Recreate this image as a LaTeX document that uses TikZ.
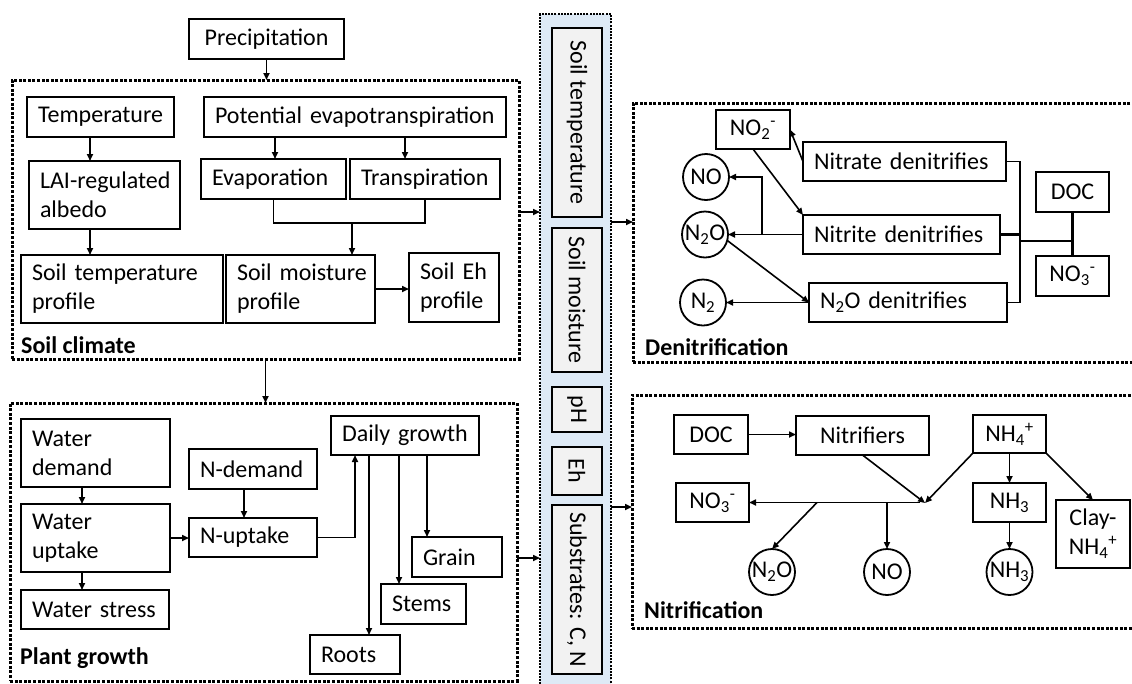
\documentclass[tikz,border=0pt]{standalone}
\usepackage{fontspec}
\setmainfont{Carlito}
\usetikzlibrary{arrows.meta}
\definecolor{colblue}{RGB}{222,234,246}
\definecolor{boxgray}{RGB}{242,242,242}
\tikzset{
  box/.style={draw, line width=2.6pt, inner xsep=11pt, inner ysep=0pt, outer sep=0pt,
    font=\fontsize{24}{29}\selectfont, align=left},
  circ/.style={draw, circle, line width=1.8pt, minimum size=46pt, inner sep=0pt, outer sep=0pt,
    font=\fontsize{24}{29}\selectfont},
  group/.style={draw, line width=3pt, dash pattern=on 3pt off 1.6pt, inner sep=0pt, outer sep=0pt},
  colgroup/.style={draw, fill=colblue, line width=2pt, dash pattern=on 2pt off 1.2pt, inner sep=0pt, outer sep=0pt},
  conn/.style={line width=1.6pt, -{Triangle[length=7pt,width=6pt]}},
  plain/.style={line width=1.6pt},
  lbl/.style={font=\bfseries\fontsize{24}{29}\selectfont, anchor=west, inner sep=0pt},
  cbox/.style={draw, line width=2.6pt, fill=boxgray, inner sep=0pt, outer sep=0pt,
    font=\fontsize{24}{29}\selectfont, anchor=north west},
}
\newcommand{\bx}[7][]{%
  \pgfmathsetmacro{\bxw}{#5-#3}\pgfmathsetmacro{\bxh}{#6-#4}\pgfmathsetmacro{\bxt}{\bxw-22}%
  \node[box, anchor=north west, minimum width=\bxw pt, minimum height=\bxh pt, text width=\bxt pt, #1] (#2) at (#3,#4) {#7};}
\begin{document}
\begin{tikzpicture}[x=1pt,y=-1pt]
\useasboundingbox (0,0) rectangle (1132,683);
\clip (0,0) rectangle (1132,683);

% group frames
\node[group, anchor=north west, minimum width=507pt, minimum height=279pt] (sc) at (12,80) {};
\node[group, anchor=north west, minimum width=507pt, minimum height=278pt] (pg) at (10,403) {};
\node[colgroup, anchor=north west, minimum width=71pt, minimum height=700pt] (col) at (540,14) {};
\node[group, anchor=north west, minimum width=540pt, minimum height=259pt] (dn) at (633,103) {};
\node[group, anchor=north west, minimum width=540pt, minimum height=233pt] (ni) at (632,395) {};

% labels
\node[lbl] (scl) at (21,345) {Soil climate};
\node[lbl] (pgl) at (20,658) {Plant growth};
\node[lbl] (dnl) at (645,347) {Denitrification};
\node[lbl] (nil) at (644,610) {Nitrification};

% soil climate
\bx[align=center]{precip}{189}{19}{344}{59}{Precipitation}
\bx{temp}{27}{97}{174}{137}{Temperature}
\bx{pet}{204}{97}{506}{137}{\mbox{Potential evapotranspiration}}
\bx{lai}{29}{161}{180}{229}{\mbox{LAI-regulated}\\albedo}
\bx{evap}{201}{159}{346}{199}{Evaporation}
\bx{transp}{350}{159}{500}{199}{Transpiration}
\bx{stp}{21}{255}{223}{323}{\mbox{Soil temperature}\\profile}
\bx{smp}{226}{255}{375}{323}{\mbox{Soil moisture}\\profile}
\bx{sehp}{409}{253}{499}{322}{\mbox{Soil Eh}\\profile}

\draw[conn] (precip.south) -- (precip.south |- sc.north);
\coordinate (t0) at ([xshift=-10.5pt]temp.south);
\draw[conn] (t0) -- (t0 |- lai.north);
\coordinate (p0) at ([xshift=-80pt]pet.south);
\draw[conn] (p0) -- (p0 |- evap.north);
\coordinate (p1) at ([xshift=50pt]pet.south);
\draw[conn] (p1) -- (p1 |- transp.north);
\draw[plain] (evap.south) -- ++(0,24) -| (transp.south);
\coordinate (m1) at (352,223);
\draw[conn] (m1) -- (m1 |- smp.north);
\coordinate (l0) at ([xshift=-14.5pt]lai.south);
\draw[conn] (l0) -- (l0 |- stp.north);
\draw[conn] (smp.east) -- (smp.east -| sehp.west);

\draw[conn] (sc.south) -- (sc.south |- pg.north);
\coordinate (a1) at ([yshift=7.5pt]sc.east);
\draw[conn] (a1) -- (a1 -| col.west);

% plant growth
\bx{wd}{21}{419}{170}{487}{Water\\demand}
\bx{wu}{21}{504}{170}{572}{Water\\uptake}
\bx{ws}{21}{590}{169}{629}{\mbox{Water stress}}
\bx{nd}{189}{449}{317}{489}{N-demand}
\bx{nu}{189}{518}{317}{557}{N-uptake}
\bx{dg}{331}{416}{479}{455}{\mbox{Daily growth}}
\bx{grain}{412}{537}{502}{577}{Grain}
\bx{stems}{381}{584}{466}{624}{Stems}
\bx{roots}{310}{635}{400}{674}{Roots}

\coordinate (w0) at ([xshift=-13.5pt]wd.south);
\draw[conn] (w0) -- (w0 |- wu.north);
\coordinate (w1) at ([xshift=-13.5pt]wu.south);
\draw[conn] (w1) -- (w1 |- ws.north);
\draw[conn] (wu.east) -- (wu.east -| nu.west);
\coordinate (n0) at ([xshift=-9pt]nd.south);
\draw[conn] (n0) -- (n0 |- nu.north);
\draw[conn] (nu.east) -| ([xshift=-50pt]dg.south);
\coordinate (r0) at ([xshift=-36pt]dg.south);
\draw[conn] (r0) -- (r0 |- roots.north);
\coordinate (s0) at ([xshift=-6pt]dg.south);
\draw[conn] (s0) -- (s0 |- stems.north);
\coordinate (g0) at ([xshift=22pt]dg.south);
\draw[conn] (g0) -- (g0 |- grain.north);

\coordinate (a2) at ([yshift=-16pt]pg.east);
\draw[conn] (a2) -- (a2 -| col.west);

% middle column
\node[cbox, minimum width=50pt, minimum height=189pt] (cst) at (552,28) {\rotatebox{-90}{Soil temperature}};
\node[cbox, minimum width=50pt, minimum height=144pt] (csm) at (552,228) {\rotatebox{-90}{Soil moisture}};
\node[cbox, minimum width=50pt, minimum height=45pt] (cph) at (552,387) {\rotatebox{-90}{pH}};
\node[cbox, minimum width=50pt, minimum height=48pt] (ceh) at (552,447) {\rotatebox{-90}{Eh}};
\node[cbox, minimum width=50pt, minimum height=169pt] (csub) at (552,505) {\rotatebox{-90}{Substrates: C, N}};

\coordinate (c1) at (col.east |- 0,222);
\draw[conn] (c1) -- (c1 -| dn.west);
\coordinate (c2) at (col.east |- 0,507);
\draw[conn] (c2) -- (c2 -| ni.west);

% denitrification
\bx[align=center]{no2}{716}{110}{790}{149}{NO\textsubscript{2}\textsuperscript{-}}
\bx{nitrate}{803}{142}{1006}{181}{\mbox{Nitrate denitrifies}}
\bx{nitrite}{803}{215}{1000}{254}{\mbox{Nitrite denitrifies}}
\bx{nden}{809}{283}{1007}{322}{\mbox{N\textsubscript{2}O denitrifies}}
\bx[align=center]{doc}{1036}{172}{1109}{212}{DOC}
\bx[align=center]{no3}{1036}{256}{1109}{296}{NO\textsubscript{3}\textsuperscript{-}}
\node[circ] (no) at (706,177) {NO};
\node[circ] (n2o) at (705,234.5) {N\textsubscript{2}O};
\node[circ] (n2) at (703,302.5) {N\textsubscript{2}};

\coordinate (bxr) at (1020,0);
\draw[plain] (nitrate.east) -| (bxr |- nden.east) -- (nden.east);
\draw[line width=2.4pt] (nitrite.east) -- (bxr |- nitrite.east);
\coordinate (d0) at (bxr |- 0,241);
\draw[plain] (d0) -- (d0 -| doc.south);
\draw[line width=2.4pt] (doc.south) -- (no3.north);

\draw[conn] (nitrate.west) -- (no2.east);
\draw[conn] (no2.south) -- (nitrite.north west);
\draw[conn] (nitrite.west) -- (nitrite.west -| n2o.east);
\coordinate (br1) at (762,234.5);
\draw[conn] (br1) |- (no.east);
\draw[conn] (n2o.-15) -- (nden.west);
\draw[conn] (nden.west) -- (nden.west -| n2.east);

% nitrification
\bx[align=center]{doc2}{674}{415}{748}{454}{DOC}
\bx[align=center]{nitrif}{796}{416}{929}{455}{Nitrifiers}
\bx[align=center]{nh4}{973}{415}{1046}{453}{NH\textsubscript{4}\textsuperscript{+}}
\bx[align=center]{no3b}{676}{483}{749}{522}{NO\textsubscript{3}\textsuperscript{-}}
\bx[align=center]{nh3b}{973}{483}{1046}{522}{NH\textsubscript{3}}
\bx[align=center]{clay}{1056}{500}{1130}{568}{Clay-\\NH\textsubscript{4}\textsuperscript{+}}
\node[circ] (n2ob) at (772,572) {N\textsubscript{2}O};
\node[circ] (nob) at (887,572) {NO};
\node[circ] (nh3c) at (1009.5,572) {NH\textsubscript{3}};

\draw[conn] (doc2.east) -- (doc2.east -| nitrif.west);
\coordinate (J) at (925,503);
\draw[conn] (nitrif.south) -- (J);
\draw[conn] (nh4.south west) -- (J);
\coordinate (J1) at (920,502.5);
\draw[conn] (J1) -- (J1 -| no3b.east);
\coordinate (b1) at (817,502.5);
\draw[conn] (b1) -- (n2ob.north);
\coordinate (b2) at (nob.north |- 0,502.5);
\draw[conn] (b2) -- (nob.north);
\draw[conn] (nh4.south) -- (nh3b.north);
\draw[conn] (nh3b.south) -- (nh3c.north);
\draw[conn] (nh4.south east) -- (clay.north);
\end{tikzpicture}
\end{document}
